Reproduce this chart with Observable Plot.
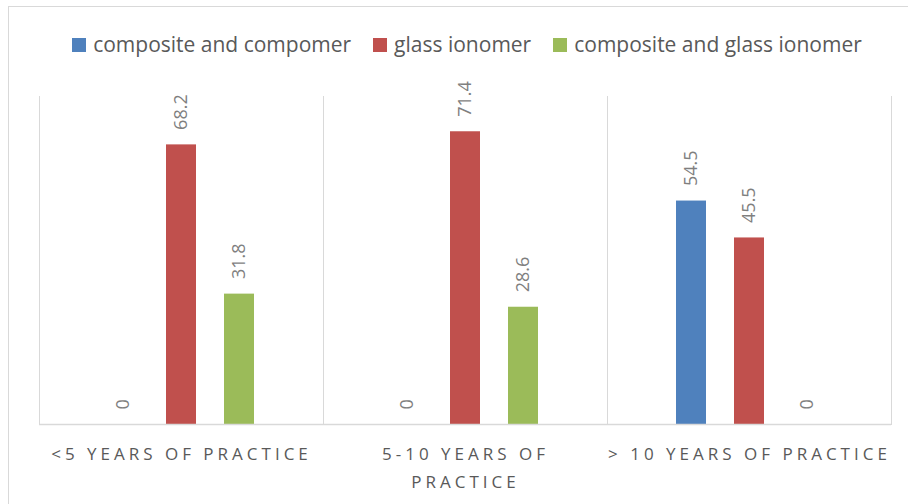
<!DOCTYPE html>
<html>
<head>
<meta charset="utf-8">
<script src="https://cdn.jsdelivr.net/npm/d3@7"></script>
<script src="https://cdn.jsdelivr.net/npm/@observablehq/plot@0.6"></script>
<style>
  html, body { margin: 0; padding: 0; background: #fff; overflow: hidden; }
  #chart { position: relative; width: 908px; height: 504px; font-family: "Open Sans", sans-serif; }
  #border { position: absolute; left: 8px; top: 6px; width: 1000px; height: 1000px;
            border: 1.5px solid #d9d9d9; box-sizing: border-box; pointer-events: none; }
  #legend { position: relative; height: 60px; padding-top: 35px; padding-left: 26px; box-sizing: border-box;
            display: flex; justify-content: center; align-items: flex-start;
            gap: 22px; font-size: 21px; color: #595959; }
  #legend .item { display: flex; align-items: center; gap: 7px; height: 20px; }
  #legend .swatch { width: 14px; height: 14px; display: inline-block; }
  #legend span.label { line-height: 1; position: relative; top: -1px; white-space: nowrap; }
  svg [aria-label="fx-axis tick label"] text { letter-spacing: 4px; }
</style>
</head>
<body>
<div id="chart">
  <div id="border"></div>
  <div id="legend"></div>
  <div id="plot"></div>
</div>
<script>
// Practice-experience groups along the bottom
const groups = ["<5 YEARS OF PRACTICE", "5-10 YEARS OF PRACTICE", "> 10 YEARS OF PRACTICE"];
const groupLabels = ["<5 YEARS OF PRACTICE", "5-10 YEARS OF\nPRACTICE", "> 10 YEARS OF PRACTICE"];

// Restorative material series (percent of respondents)
const series = ["composite and compomer", "glass ionomer", "composite and glass ionomer"];
const seriesColors = ["#4f81bd", "#c0504d", "#9bbb59"];
const compositeCompomer = [0, 0, 54.5];
const glassIonomer = [68.2, 71.4, 45.5];
const compositeGlassIonomer = [31.8, 28.6, 0];

const seriesValues = [compositeCompomer, glassIonomer, compositeGlassIonomer];
const rows = groups.flatMap((g, i) =>
  series.map((s, j) => ({group: g, series: s, value: seriesValues[j][i]}))
);

// Legend
const legend = document.getElementById("legend");
series.forEach((s, j) => {
  const item = document.createElement("div");
  item.className = "item";
  const sw = document.createElement("span");
  sw.className = "swatch";
  sw.style.background = seriesColors[j];
  const lab = document.createElement("span");
  lab.className = "label";
  lab.textContent = s;
  item.append(sw, lab);
  legend.append(item);
});

const chart = Plot.plot({
  width: 908,
  height: 444,
  marginLeft: 38,
  marginRight: 16,
  marginTop: 36,
  marginBottom: 80,
  style: {fontFamily: "'Open Sans', sans-serif", background: "transparent"},
  fx: {domain: groups, padding: 0, axis: null},
  x: {domain: series, axis: null, paddingInner: 0.487, paddingOuter: 1.177},
  y: {domain: [0, 80], axis: null},
  color: {domain: series, range: seriesColors},
  marks: [
    Plot.frame({anchor: "left", stroke: "#d9d9d9"}),
    Plot.frame({anchor: "right", stroke: "#d9d9d9"}),
    Plot.barY(rows, {fx: "group", x: "series", y: "value", fill: "series"}),
    Plot.ruleY([0], {stroke: "#d9d9d9", strokeWidth: 1.5}),
    Plot.text(rows, {
      fx: "group", x: "series", y: "value",
      text: d => String(d.value),
      rotate: -90, textAnchor: "start", dy: -15,
      fill: "#7f7f7f", fontSize: 18
    }),
    Plot.axisFx({
      anchor: "bottom", tickSize: 0, tickPadding: 16, label: null,
      tickFormat: g => groupLabels[groups.indexOf(g)],
      fontSize: 17, fill: "#595959", lineHeight: 1.65
    })
  ]
});
document.getElementById("plot").append(chart);
</script>
</body>
</html>
